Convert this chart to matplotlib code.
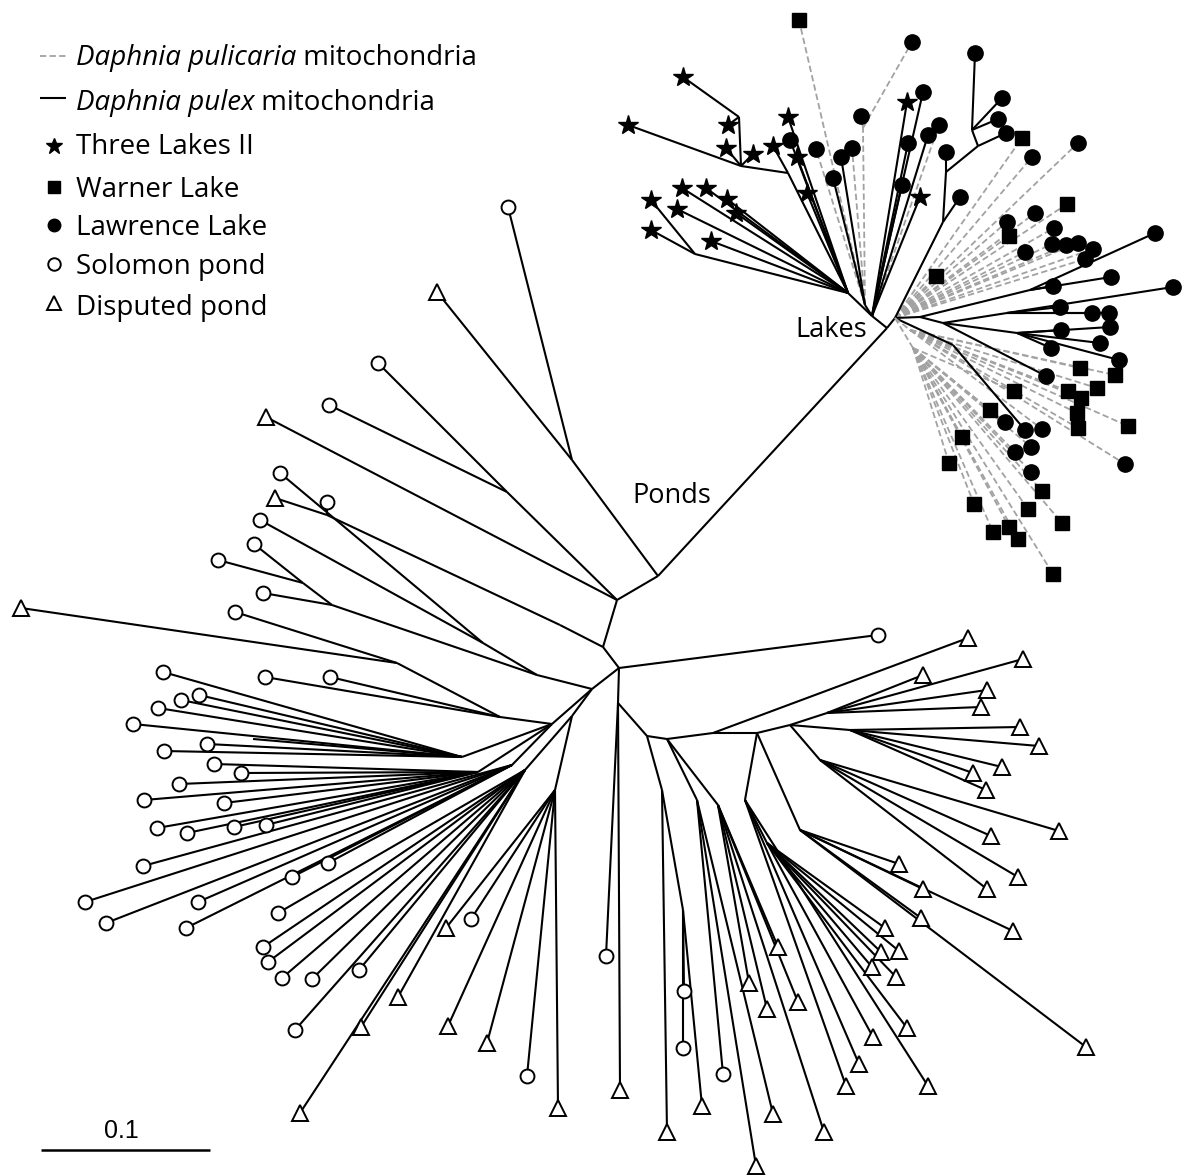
import matplotlib
matplotlib.use('Agg')
import matplotlib.pyplot as plt

W, H = 1191, 1176

# ---------------- internal nodes of the unrooted tree (positions) -------------
NODE_ID = ['L', 'LA', 'LAL', 'NS1', 'NS2', 'NS3', 'NSC', 'LAM', 'NM1',
           'LB', 'LBU1', 'LBU2', 'LBU3', 'LBU4', 'LBS1', 'LBS2', 'RS1', 'RS2', 'RS3', 'RS4',
           'LBD1', 'LBD2',
           'R', 'U1', 'PA', 'U3', 'N0', 'NB', 'NB2', 'N1', 'PC', 'Q1', 'Q1a', 'Q1b', 'Q1c',
           'LF', 'LF0', 'LF0a', 'LF1', 'LF2', 'LF3', 'DL', 'DL1', 'DL2',
           'D0', 'D1', 'D1a', 'D1b', 'D2', 'D2a', 'D2b', 'D3', 'D4', 'D4a', 'D4b', 'D4c',
           'D5', 'D5b', 'D6', 'D7']
NODE_X = [887, 872, 848, 788, 741, 739, 695, 865, 863,
          895, 943, 946, 978, 972, 920, 943, 1030, 1007, 1017, 953,
          910, 913,
          658, 572, 617, 507, 603, 560, 327, 619, 592, 537, 483, 332, 303,
          552, 500, 397, 462, 478, 512, 572, 525, 555,
          618, 647, 662, 683, 667, 697, 718, 713, 757, 745, 767, 800,
          790, 827, 850, 820]
NODE_Y = [328, 316, 293, 173, 166, 117, 254, 305, 128,
          318, 222, 172, 146, 130, 317, 323, 290, 313, 333, 345,
          330, 348,
          576, 460, 600, 492, 647, 625, 515, 668, 689, 675, 643, 605, 583,
          724, 717, 663, 757, 772, 765, 716, 770, 790,
          703, 736, 790, 910, 739, 800, 805, 733, 733, 800, 843, 830,
          725, 713, 730, 760]
NODE_PARENT = [None, 'L', 'LA', 'LAL', 'NS1', 'NS2', 'LAL', 'LA', 'LAM',
               'L', 'LB', 'LBU1', 'LBU2', 'LBU3', 'LB', 'LBS1', 'LBS1', 'LBS2', 'LBS2', 'LB',
               'LB', 'LB',
               'L', 'R', 'R', 'PA', 'PA', 'N0', 'NB', 'N0', 'N1', 'PC', 'Q1', 'Q1', 'Q1b',
               'PC', 'LF', 'LF0', 'LF', 'LF', 'LF', 'PC', 'DL', 'DL',
               'N1', 'D0', 'D1', 'D1a', 'D1', 'D2', 'D2', 'D2', 'D3', 'D4', 'D4a', 'D4',
               'D4', 'D5', 'D5', 'D5']
# mitochondrial type of the branch leading to a node: x = D. pulex (solid), c = D. pulicaria (dashed)
NODE_MITO = ['x', 'x', 'x', 'x', 'x', 'x', 'x', 'x', 'c',
             'x', 'x', 'x', 'x', 'x', 'x', 'x', 'x', 'x', 'x', 'x',
             'c', 'c',
             'x', 'x', 'x', 'x', 'x', 'x', 'x', 'x', 'x', 'x', 'x', 'x', 'x',
             'x', 'x', 'x', 'x', 'x', 'x', 'x', 'x', 'x',
             'x', 'x', 'x', 'x', 'x', 'x', 'x', 'x', 'x', 'x', 'x', 'x',
             'x', 'x', 'x', 'x']

# ---------------- tips: parent node, position, population, mitochondria ----------------
# population: T Three Lakes II, W Warner Lake, L Lawrence Lake, S Solomon pond, D Disputed pond, - none
TIP_PARENT = (['NS3'] * 2 + ['NS2'] * 3 + ['NS1'] + ['NSC'] * 2 + ['LAL'] * 10 +
              ['NM1'] * 2 + ['LAM'] * 5 + ['LA'] * 7 +
              ['LBU4'] * 3 + ['LBU3'] + ['LBU2'] + ['LBU1'] + ['LB'] * 15 +
              ['RS1'] * 3 + ['RS2'] * 4 + ['RS3'] * 5 + ['LBS2'] + ['RS4'] +
              ['LBD1'] * 10 + ['LBD2'] * 16 +
              ['U1'] * 2 + ['PA'] + ['U3'] * 2 + ['NB2'] * 2 + ['Q1a'] * 2 + ['Q1c'] * 2 + ['Q1b'] +
              ['LF0a'] * 2 + ['LF0'] * 2 + ['LF1'] * 8 + ['LF2'] * 9 + ['LF3'] * 7 +
              ['DL1'] * 10 + ['DL2'] * 6 + ['D0'] * 2 + ['N1'] + ['D1a'] + ['D1b'] * 3 +
              ['D2a'] * 3 + ['D2b'] * 5 + ['D4a'] * 3 + ['D4b'] * 7 + ['D4c'] * 5 + ['D3'] +
              ['D5b'] * 4 + ['D6'] * 5 + ['D7'] * 4)
TIP_X = [683, 728, 628, 753, 726, 773, 651, 651,
         788, 790, 797, 807, 682, 706, 727, 677, 736, 711,
         912, 861, 799, 816, 852, 841, 833,
         907, 923, 908, 902, 928, 920, 939,
         975, 1002, 998, 1006, 946, 960,
         936, 1035, 1007, 1009, 1067, 1032, 1022, 1078, 1054, 1025, 1052, 1066, 1078, 1093, 1085,
         1155, 1053, 1111, 1173, 1060, 1109, 1092, 1110, 1061, 1100, 1051, 1119, 1046, 1025,
         1080, 1115, 1068, 1097, 1081, 1077, 1078, 1128, 1042, 1125,
         1014, 990, 962, 949, 1042, 1028, 974, 1062, 993, 1009, 1018, 1053, 1005, 1015, 1031, 1031,
         508, 437, 266, 378, 329, 275, 327, 280, 260, 218, 254, 263,
         21, 235, 265, 330,
         163, 199, 181, 158, 133, 253, 207, 164,
         214, 241, 179, 144, 224, 157, 187, 234, 266,
         143, 85, 106, 198, 186, 328, 292,
         278, 263, 268, 282, 312, 295, 359, 300, 361, 398,
         446, 471, 448, 487, 527, 558,
         606, 620, 878, 667, 684, 683, 702,
         723, 756, 773, 824, 778, 749, 767, 798,
         846, 859, 928, 873, 907, 872, 881, 899, 896, 885,
         1086, 1013, 921, 899, 923, 968,
         923, 1023, 987, 981, 1020, 1039, 973, 1002, 986, 1059, 991, 1018, 987]
TIP_Y = [77, 125, 125, 154, 148, 146, 200, 230,
         117, 140, 157, 193, 188, 188, 199, 209, 213, 241,
         42, 116, 20, 149, 148, 157, 178,
         102, 92, 143, 185, 135, 197, 125,
         53, 98, 119, 133, 152, 197,
         276, 213, 222, 236, 204, 157, 138, 143, 228, 252, 244, 245, 243, 249, 259,
         233, 286, 277, 287, 307, 313, 313, 327, 330, 343, 348, 360, 376, 430,
         368, 375, 391, 388, 398, 413, 428, 426, 429, 464,
         391, 410, 437, 463, 491, 509, 504, 523, 532, 527, 539, 574, 422, 452, 447, 472,
         207, 292, 417, 363, 405, 498, 502, 473, 520, 560, 544, 593,
         608, 612, 677, 677,
         672, 695, 700, 708, 724, 739, 744, 751,
         764, 773, 784, 800, 803, 828, 833, 827, 825,
         866, 902, 923, 902, 928, 863, 877,
         913, 947, 962, 978, 979, 1030, 970, 1113, 1027, 997,
         928, 919, 1026, 1043, 1076, 1108,
         956, 1090, 635, 1132, 991, 1048, 1106,
         1074, 1166, 1114, 1132, 947, 983, 1009, 1002,
         1086, 1064, 1086, 1037, 1028, 967, 952, 951, 977, 928,
         1047, 931, 918, 864, 889, 638,
         675, 659, 690, 707, 727, 746, 773, 767, 790, 831, 836, 877, 889]
TIP_POP = ('TTTTTTTT' + 'TLTTTTTTTT' + 'LL' + 'WLLLL' + 'TLLLLTL' +
           'LLLLLL' + 'WLLWWLWLLLLLLLL' + 'LLL' + 'LLLL' + 'LLLLL' + 'L' + 'L' +
           'WWWWWWWWLL' + 'WWWWWWWWWWWWLLLL' +
           'SDDSSDSSSSSS' + 'DSSS' + 'SSSSS-SS' + 'SSSSSSSSS' + 'SSSSSSS' +
           'SSSSSSSDDD' + 'DSDDSD' + 'SDSDSSD' + 'SDDDDDDD' + 'DDDDDDDDDD' + 'DDDDDD' +
           'DDDDDDDDDDDDD')
TIP_MITO = ('xxxxxxxx' + 'xxxxxxxxxx' + 'cc' + 'cccxx' + 'xxxxxxc' +
            'xxxxxx' + 'ccccccccccccccc' + 'xxx' + 'xxxx' + 'xxxxx' + 'x' + 'x' +
            'cccccccccc' + 'cccccccccccccccc' +
            'x' * 12 + 'x' * 4 + 'x' * 8 + 'x' * 9 + 'x' * 7 +
            'x' * 10 + 'x' * 6 + 'x' * 7 + 'x' * 8 + 'x' * 10 + 'x' * 6 + 'x' * 13)

LEGEND_LINES = [('Daphnia pulicaria', ' mitochondria', 'c'),
                ('Daphnia pulex', ' mitochondria', 'x')]
LEGEND_POPS = [('T', 'Three Lakes II'), ('W', 'Warner Lake'), ('L', 'Lawrence Lake'),
               ('S', 'Solomon pond'), ('D', 'Disputed pond')]
CLADE_LABELS = [('Lakes', 831, 337), ('Ponds', 672, 503)]
SCALE_LABEL = '0.1'

# ---------------- styles ----------------
FONT = 'Open Sans'
FS = 20
LINE_STYLE = {'x': dict(color='black', lw=1.5, solid_capstyle='butt'),
              'c': dict(color='#a2a2a2', lw=1.3, dashes=(3.5, 1.8))}
MARKER = {'T': dict(marker='*', ms=15, mfc='black', mec='black'),
          'W': dict(marker='s', ms=9.5, mfc='black', mec='black'),
          'L': dict(marker='o', ms=11, mfc='black', mec='black'),
          'S': dict(marker='o', ms=10, mfc='white', mec='black', mew=1.4),
          'D': dict(marker='^', ms=11, mfc='white', mec='black', mew=1.4)}

fig = plt.figure(figsize=(W / 100, H / 100), dpi=100)
ax = fig.add_axes([0, 0, 1, 1])
ax.set_xlim(0, W)
ax.set_ylim(H, 0)
ax.axis('off')

pos = {n: (x, y) for n, x, y in zip(NODE_ID, NODE_X, NODE_Y)}

# branches between internal nodes
for n, par, mito in zip(NODE_ID, NODE_PARENT, NODE_MITO):
    if par is None:
        continue
    (x0, y0), (x1, y1) = pos[par], pos[n]
    ax.plot([x0, x1], [y0, y1], zorder=2, **LINE_STYLE[mito])

# terminal branches and tip markers
for par, x, y, pop, mito in zip(TIP_PARENT, TIP_X, TIP_Y, TIP_POP, TIP_MITO):
    x0, y0 = pos[par]
    ax.plot([x0, x], [y0, y], zorder=2 if mito == 'x' else 1.5, **LINE_STYLE[mito])
for par, x, y, pop, mito in zip(TIP_PARENT, TIP_X, TIP_Y, TIP_POP, TIP_MITO):
    if pop in MARKER:
        ax.plot([x], [y], ls='none', zorder=4, **MARKER[pop])

# clade labels
for txt, x, y in CLADE_LABELS:
    ax.text(x, y, txt, ha='center', va='baseline', fontsize=19.5, family=FONT)

# legend
fig.canvas.draw()
renderer = fig.canvas.get_renderer()
leg_line_y = [56, 98]
leg_line_base = [65, 110]
for (it, rest, mito), ly, by in zip(LEGEND_LINES, leg_line_y, leg_line_base):
    ax.plot([40, 66], [ly, ly], **LINE_STYLE[mito])
    t = ax.text(76, by, it, fontsize=FS, family=FONT, style='italic', va='baseline')
    bb = t.get_window_extent(renderer)
    ax.text(76 + bb.width, by, rest, fontsize=FS, family=FONT, va='baseline')

leg_pop_y = [146, 187, 225, 264, 303]
leg_pop_base = [154, 197, 235, 274, 315]
leg_ms = {'T': 12, 'W': 8, 'L': 9, 'S': 9, 'D': 10}
for (pop, label), my, by in zip(LEGEND_POPS, leg_pop_y, leg_pop_base):
    st = dict(MARKER[pop])
    st['ms'] = leg_ms[pop]
    ax.plot([54], [my], ls='none', **st)
    ax.text(76, by, label, fontsize=FS, family=FONT, va='baseline')

# scale bar
ax.plot([41, 210], [1150, 1150], color='black', lw=1.8, solid_capstyle='butt')
ax.text(121, 1138, SCALE_LABEL, ha='center', va='baseline', fontsize=18, family='Liberation Sans')

fig.savefig('out.png', dpi=100)
